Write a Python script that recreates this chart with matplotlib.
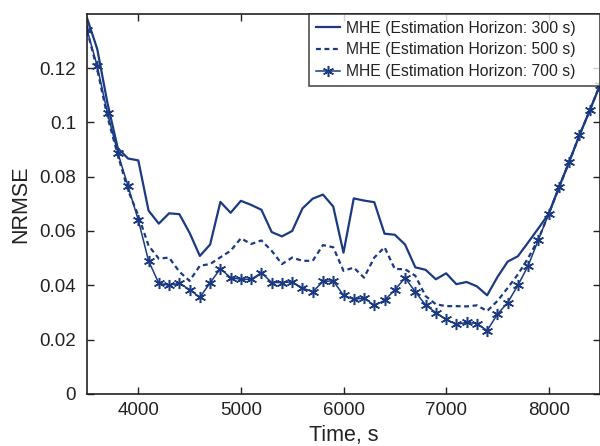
import matplotlib
matplotlib.use("Agg")
import matplotlib.pyplot as plt
import numpy as np

plt.rcParams['font.family'] = ['Liberation Sans', 'DejaVu Sans']

time = list(range(3500, 8600, 100))

nrmse_300 = [0.1385, 0.127, 0.107, 0.0905, 0.0867, 0.086, 0.0675, 0.0627, 0.0665, 0.0662, 0.0593, 0.0508,
             0.0550, 0.0707, 0.0667, 0.0711, 0.0696, 0.0678, 0.0596, 0.0580, 0.0600, 0.0683, 0.0719, 0.0734,
             0.0690, 0.0520, 0.0720, 0.0712, 0.0706, 0.0590, 0.0586, 0.0550, 0.0466, 0.0457, 0.0422, 0.0444,
             0.0404, 0.0412, 0.0396, 0.0363, 0.0430, 0.0487, 0.0507, 0.0558, 0.0610, 0.0663, 0.0760, 0.0855,
             0.0953, 0.1044, 0.1138]

nrmse_500 = [0.1340, 0.1195, 0.1020, 0.0880, 0.0750, 0.0657, 0.0546, 0.0498, 0.0502, 0.0450, 0.0416, 0.0472,
             0.0478, 0.0503, 0.0527, 0.0573, 0.0552, 0.0565, 0.0527, 0.0478, 0.0502, 0.0490, 0.0490, 0.0548,
             0.0540, 0.0453, 0.0465, 0.0428, 0.0502, 0.0540, 0.0460, 0.0459, 0.0435, 0.0360, 0.0330, 0.0323,
             0.0323, 0.0322, 0.0326, 0.0305, 0.0342, 0.0390, 0.0440, 0.0500, 0.0570, 0.0663, 0.0760, 0.0855,
             0.0953, 0.1044, 0.1138]

nrmse_700 = [0.1342, 0.1207, 0.1033, 0.0889, 0.0765, 0.0640, 0.0490, 0.0407, 0.0400, 0.0407, 0.0384, 0.0355,
             0.0409, 0.0461, 0.0428, 0.0422, 0.0422, 0.0446, 0.0410, 0.0410, 0.0412, 0.0390, 0.0376, 0.0414,
             0.0416, 0.0363, 0.0348, 0.0353, 0.0326, 0.0344, 0.0383, 0.0427, 0.0376, 0.0327, 0.0299, 0.0274,
             0.0256, 0.0263, 0.0259, 0.0233, 0.0293, 0.0336, 0.0400, 0.0472, 0.0568, 0.0663, 0.0763, 0.0855,
             0.0953, 0.1044, 0.1138]

labels = ["MHE (Estimation Horizon: 300 s)",
          "MHE (Estimation Horizon: 500 s)",
          "MHE (Estimation Horizon: 700 s)"]

color = "#1b3a82"
ink = '#222222'

fig = plt.figure(figsize=(6.0, 4.46), dpi=100)
ax = fig.add_axes([0.145, 0.117, 0.855, 0.852])

ax.plot(time, nrmse_300, color=color, lw=1.6, ls='-', label=labels[0])
ax.plot(time, nrmse_500, color=color, lw=1.6, ls=(0, (2.2, 1.6)), label=labels[1])
ax.plot(time, nrmse_700, color=color, lw=1.1, ls='-', marker=(6, 2, 0), ms=8, mew=1.1,
        label=labels[2])

ax.set_xlim(3500, 8500)
ax.set_ylim(0, 0.14)
ax.set_xticks([4000, 5000, 6000, 7000, 8000])
ax.set_yticks([0, 0.02, 0.04, 0.06, 0.08, 0.1, 0.12])
ax.set_yticklabels(["0", "0.02", "0.04", "0.06", "0.08", "0.1", "0.12"])
ax.tick_params(direction='in', top=True, right=True, labelsize=13.5, length=5, width=1,
               colors=ink, labelcolor=ink)
ax.tick_params(axis='x', pad=6)
ax.tick_params(axis='y', pad=8)
for s in ax.spines.values():
    s.set_linewidth(1.2)
    s.set_color(ink)

ax.set_xlabel("Time, s", fontsize=15.5, color=ink, labelpad=4)
ax.set_ylabel("NRMSE", fontsize=15.5, color=ink, labelpad=6)

leg = ax.legend(loc='upper right', bbox_to_anchor=(0.4327, 0.7, 0.5673, 0.3), mode='expand',
                fontsize=11.3, frameon=True, fancybox=False,
                borderaxespad=0.0, handlelength=1.5, borderpad=0.45, labelspacing=0.42,
                handletextpad=0.4)
leg.get_frame().set_edgecolor(ink)
leg.get_frame().set_linewidth(1.2)
for t in leg.get_texts():
    t.set_color(ink)

fig.savefig("out.png", dpi=100)
